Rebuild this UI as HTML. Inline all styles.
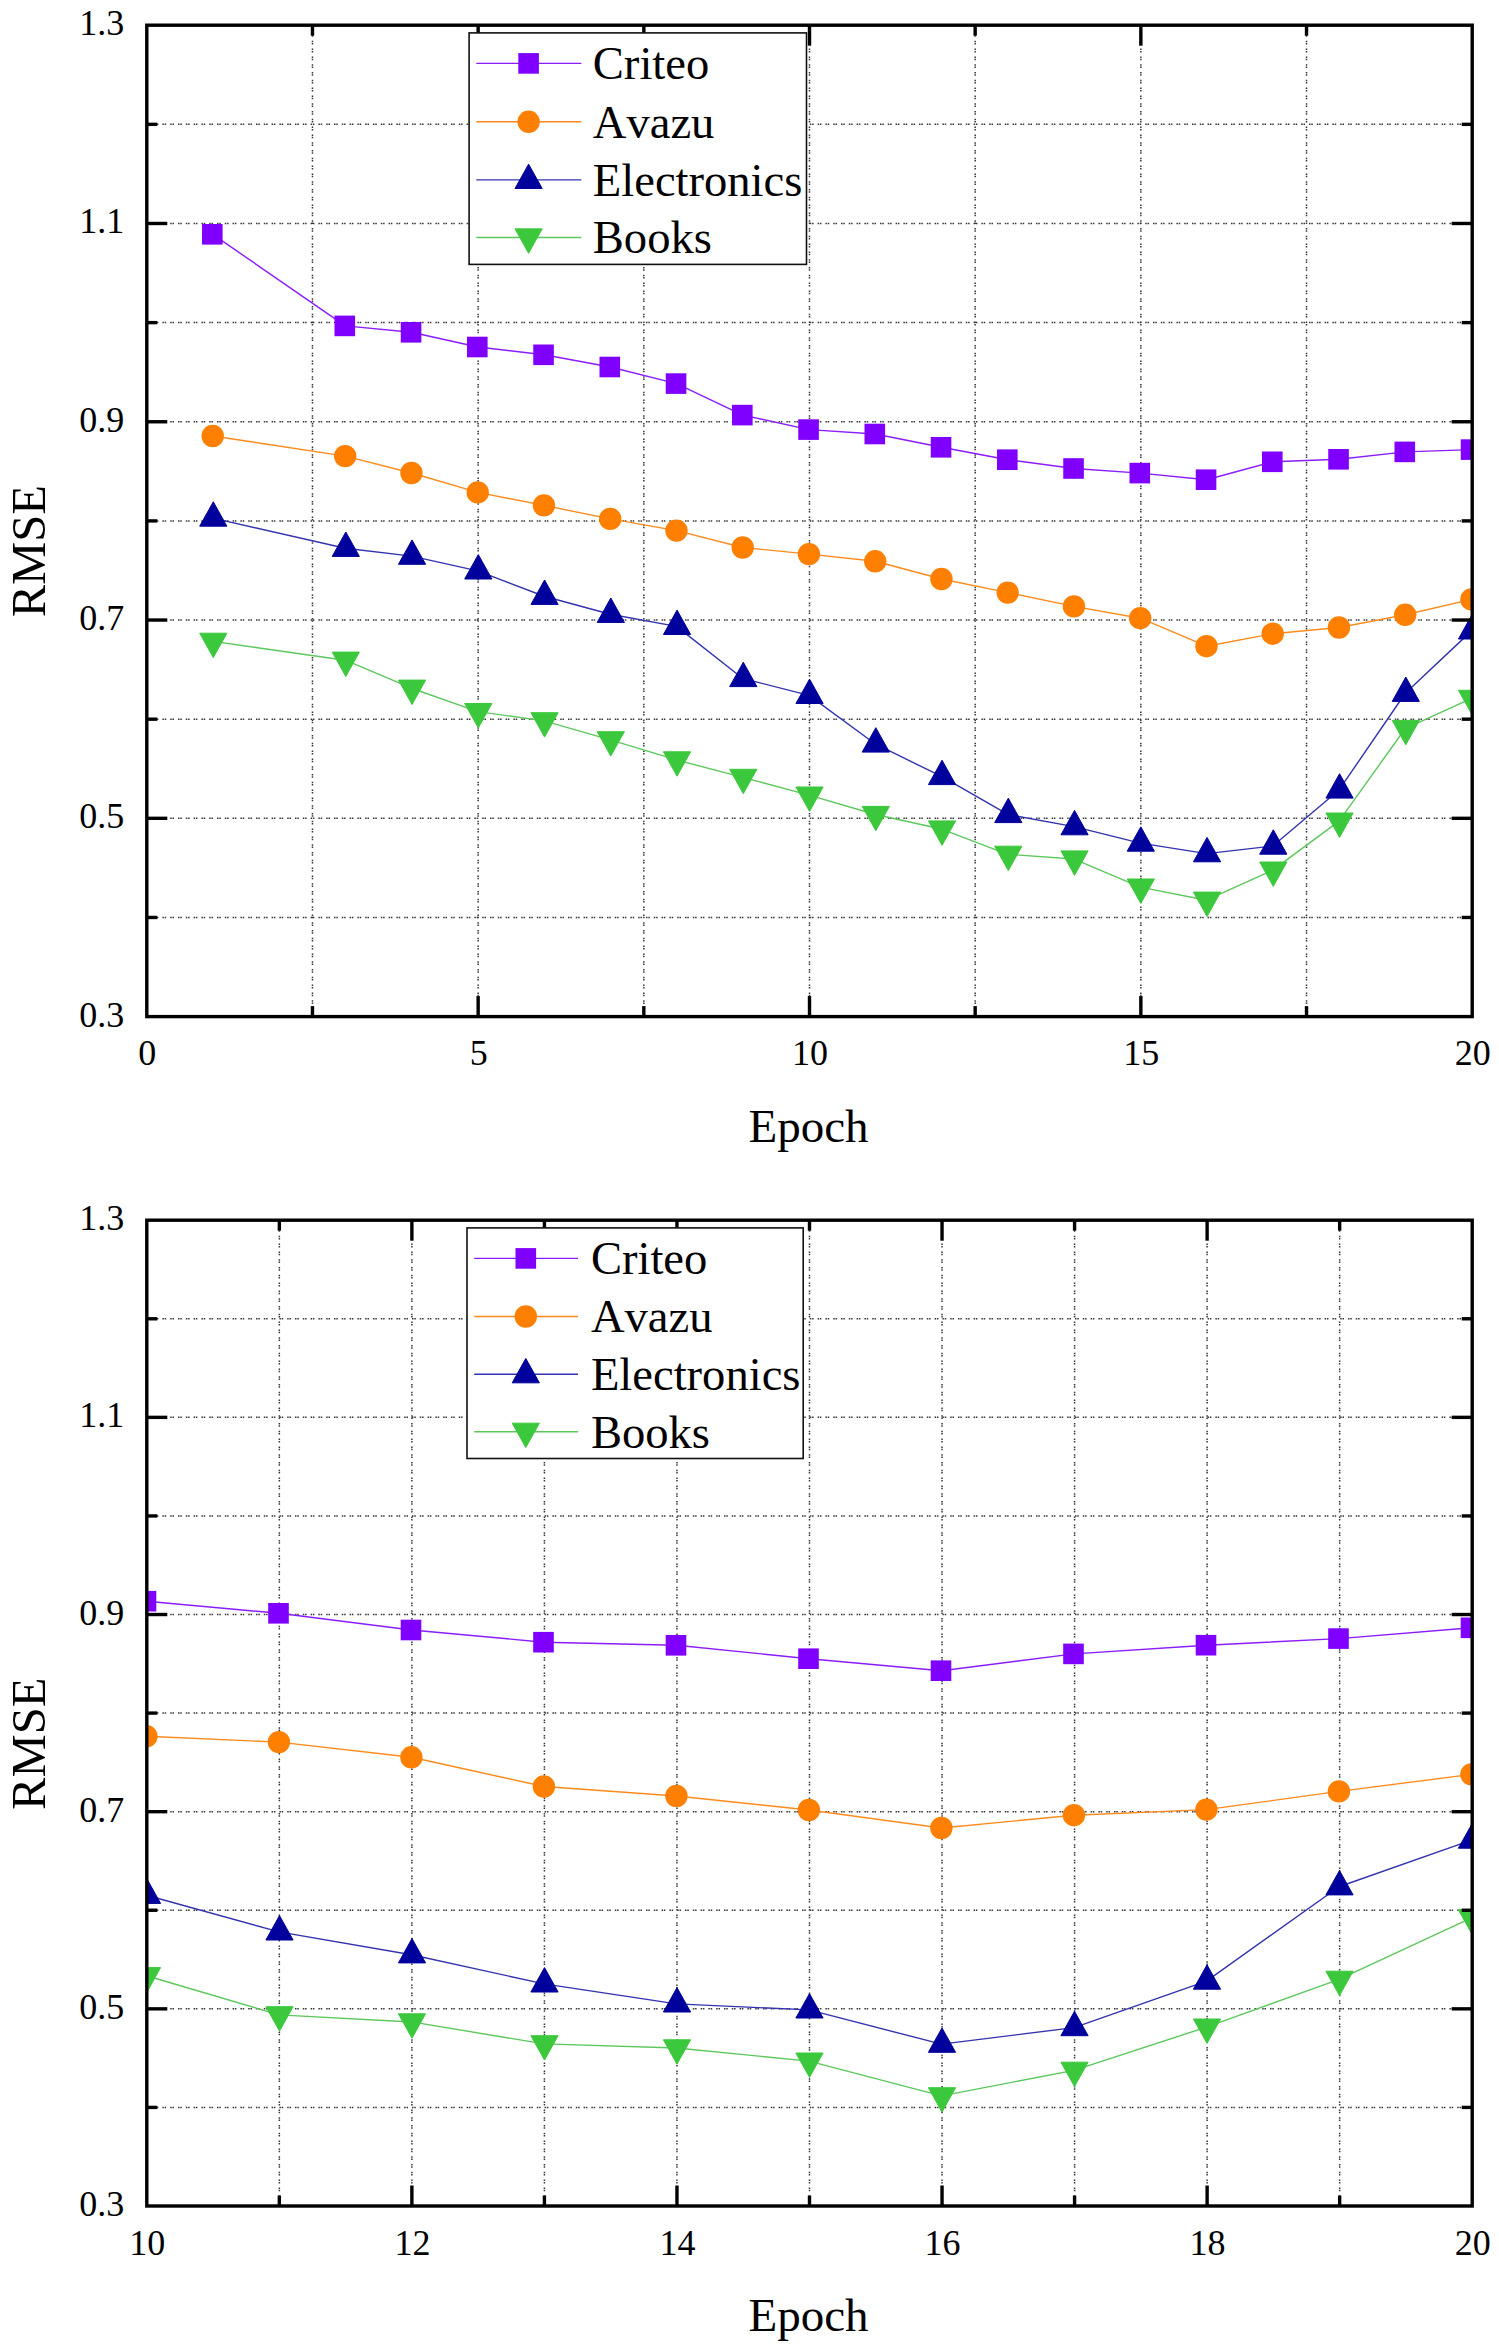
<!DOCTYPE html>
<html><head><meta charset="utf-8"><title>RMSE vs Epoch</title>
<style>html,body{margin:0;padding:0;background:#fff;width:1499px;height:2352px;overflow:hidden}svg{display:block}</style>
</head><body>
<svg width="1499" height="2352" viewBox="0 0 1499 2352">
<rect width="1499" height="2352" fill="#fff"/>
<defs><clipPath id="clip1"><rect x="146.8" y="25.2" width="1325.4" height="991.4"/></clipPath></defs>
<g stroke="#363636" stroke-width="1.5" stroke-dasharray="1.5 0.8 1.5 4.0"><line x1="146.8" y1="124.34" x2="1472.2" y2="124.34"/><line x1="146.8" y1="223.48" x2="1472.2" y2="223.48"/><line x1="146.8" y1="322.62" x2="1472.2" y2="322.62"/><line x1="146.8" y1="421.76" x2="1472.2" y2="421.76"/><line x1="146.8" y1="520.9" x2="1472.2" y2="520.9"/><line x1="146.8" y1="620.04" x2="1472.2" y2="620.04"/><line x1="146.8" y1="719.18" x2="1472.2" y2="719.18"/><line x1="146.8" y1="818.32" x2="1472.2" y2="818.32"/><line x1="146.8" y1="917.46" x2="1472.2" y2="917.46"/><line x1="312.48" y1="25.2" x2="312.48" y2="1016.6"/><line x1="478.15" y1="25.2" x2="478.15" y2="1016.6"/><line x1="643.83" y1="25.2" x2="643.83" y2="1016.6"/><line x1="809.5" y1="25.2" x2="809.5" y2="1016.6"/><line x1="975.17" y1="25.2" x2="975.17" y2="1016.6"/><line x1="1140.85" y1="25.2" x2="1140.85" y2="1016.6"/><line x1="1306.53" y1="25.2" x2="1306.53" y2="1016.6"/></g>
<g clip-path="url(#clip1)"><polyline points="212.8,234.3 345.3,325.9 411.55,332.3 477.8,347 544.05,354.8 610.3,367 676.55,383.6 742.8,415.1 809.05,429.6 875.3,434 941.55,447.3 1007.8,459.7 1074.05,468.5 1140.3,473.1 1206.55,479.7 1272.8,461.8 1339.05,459.3 1405.3,451.9 1471.55,449.6" fill="none" stroke="#8a1cff" stroke-width="1.4" stroke-linejoin="round"/><rect x="202" y="224" width="20.6" height="20.6" fill="#8000ff"/><rect x="334.5" y="315.6" width="20.6" height="20.6" fill="#8000ff"/><rect x="400.75" y="322" width="20.6" height="20.6" fill="#8000ff"/><rect x="467" y="336.7" width="20.6" height="20.6" fill="#8000ff"/><rect x="533.25" y="344.5" width="20.6" height="20.6" fill="#8000ff"/><rect x="599.5" y="356.7" width="20.6" height="20.6" fill="#8000ff"/><rect x="665.75" y="373.3" width="20.6" height="20.6" fill="#8000ff"/><rect x="732" y="404.8" width="20.6" height="20.6" fill="#8000ff"/><rect x="798.25" y="419.3" width="20.6" height="20.6" fill="#8000ff"/><rect x="864.5" y="423.7" width="20.6" height="20.6" fill="#8000ff"/><rect x="930.75" y="437" width="20.6" height="20.6" fill="#8000ff"/><rect x="997" y="449.4" width="20.6" height="20.6" fill="#8000ff"/><rect x="1063.25" y="458.2" width="20.6" height="20.6" fill="#8000ff"/><rect x="1129.5" y="462.8" width="20.6" height="20.6" fill="#8000ff"/><rect x="1195.75" y="469.4" width="20.6" height="20.6" fill="#8000ff"/><rect x="1262" y="451.5" width="20.6" height="20.6" fill="#8000ff"/><rect x="1328.25" y="449" width="20.6" height="20.6" fill="#8000ff"/><rect x="1394.5" y="441.6" width="20.6" height="20.6" fill="#8000ff"/><rect x="1460.75" y="439.3" width="20.6" height="20.6" fill="#8000ff"/><polyline points="212.8,436 345.3,456.1 411.55,473 477.8,492.4 544.05,505.4 610.3,518.9 676.55,530.6 742.8,547.5 809.05,554.1 875.3,561.3 941.55,579 1007.8,592.6 1074.05,606.4 1140.3,618.2 1206.55,646.2 1272.8,633.7 1339.05,627.5 1405.3,614.8 1471.55,599.4" fill="none" stroke="#ff8a1c" stroke-width="1.4" stroke-linejoin="round"/><circle cx="212.7" cy="436" r="11.2" fill="#ff8000"/><circle cx="345.2" cy="456.1" r="11.2" fill="#ff8000"/><circle cx="411.45" cy="473" r="11.2" fill="#ff8000"/><circle cx="477.7" cy="492.4" r="11.2" fill="#ff8000"/><circle cx="543.95" cy="505.4" r="11.2" fill="#ff8000"/><circle cx="610.2" cy="518.9" r="11.2" fill="#ff8000"/><circle cx="676.45" cy="530.6" r="11.2" fill="#ff8000"/><circle cx="742.7" cy="547.5" r="11.2" fill="#ff8000"/><circle cx="808.95" cy="554.1" r="11.2" fill="#ff8000"/><circle cx="875.2" cy="561.3" r="11.2" fill="#ff8000"/><circle cx="941.45" cy="579" r="11.2" fill="#ff8000"/><circle cx="1007.7" cy="592.6" r="11.2" fill="#ff8000"/><circle cx="1073.95" cy="606.4" r="11.2" fill="#ff8000"/><circle cx="1140.2" cy="618.2" r="11.2" fill="#ff8000"/><circle cx="1206.45" cy="646.2" r="11.2" fill="#ff8000"/><circle cx="1272.7" cy="633.7" r="11.2" fill="#ff8000"/><circle cx="1338.95" cy="627.5" r="11.2" fill="#ff8000"/><circle cx="1405.2" cy="614.8" r="11.2" fill="#ff8000"/><circle cx="1471.45" cy="599.4" r="11.2" fill="#ff8000"/><polyline points="212.8,518.07 345.3,548.27 411.55,556.17 477.8,570.87 544.05,596.27 610.3,614.27 676.55,626.37 742.8,678.47 809.05,695.37 875.3,743.97 941.55,776.47 1007.8,814.47 1074.05,826.67 1140.3,843.07 1206.55,853.67 1272.8,846.07 1339.05,789.97 1405.3,693.27 1471.55,630.87" fill="none" stroke="#3333b0" stroke-width="1.4" stroke-linejoin="round"/><path d="M213.3 501.8L226.9 526.2L199.7 526.2Z" fill="#00009c" stroke="#00009c" stroke-width="1"/><path d="M345.8 532L359.4 556.4L332.2 556.4Z" fill="#00009c" stroke="#00009c" stroke-width="1"/><path d="M412.05 539.9L425.65 564.3L398.45 564.3Z" fill="#00009c" stroke="#00009c" stroke-width="1"/><path d="M478.3 554.6L491.9 579L464.7 579Z" fill="#00009c" stroke="#00009c" stroke-width="1"/><path d="M544.55 580L558.15 604.4L530.95 604.4Z" fill="#00009c" stroke="#00009c" stroke-width="1"/><path d="M610.8 598L624.4 622.4L597.2 622.4Z" fill="#00009c" stroke="#00009c" stroke-width="1"/><path d="M677.05 610.1L690.65 634.5L663.45 634.5Z" fill="#00009c" stroke="#00009c" stroke-width="1"/><path d="M743.3 662.2L756.9 686.6L729.7 686.6Z" fill="#00009c" stroke="#00009c" stroke-width="1"/><path d="M809.55 679.1L823.15 703.5L795.95 703.5Z" fill="#00009c" stroke="#00009c" stroke-width="1"/><path d="M875.8 727.7L889.4 752.1L862.2 752.1Z" fill="#00009c" stroke="#00009c" stroke-width="1"/><path d="M942.05 760.2L955.65 784.6L928.45 784.6Z" fill="#00009c" stroke="#00009c" stroke-width="1"/><path d="M1008.3 798.2L1021.9 822.6L994.7 822.6Z" fill="#00009c" stroke="#00009c" stroke-width="1"/><path d="M1074.55 810.4L1088.15 834.8L1060.95 834.8Z" fill="#00009c" stroke="#00009c" stroke-width="1"/><path d="M1140.8 826.8L1154.4 851.2L1127.2 851.2Z" fill="#00009c" stroke="#00009c" stroke-width="1"/><path d="M1207.05 837.4L1220.65 861.8L1193.45 861.8Z" fill="#00009c" stroke="#00009c" stroke-width="1"/><path d="M1273.3 829.8L1286.9 854.2L1259.7 854.2Z" fill="#00009c" stroke="#00009c" stroke-width="1"/><path d="M1339.55 773.7L1353.15 798.1L1325.95 798.1Z" fill="#00009c" stroke="#00009c" stroke-width="1"/><path d="M1405.8 677L1419.4 701.4L1392.2 701.4Z" fill="#00009c" stroke="#00009c" stroke-width="1"/><path d="M1472.05 614.6L1485.65 639L1458.45 639Z" fill="#00009c" stroke="#00009c" stroke-width="1"/><polyline points="212.8,641.33 345.3,660.23 411.55,688.23 477.8,711.63 544.05,720.83 610.3,739.83 676.55,759.93 742.8,777.43 809.05,795.13 875.3,814.53 941.55,829.03 1007.8,854.33 1074.05,859.03 1140.3,887.13 1206.55,900.23 1272.8,870.13 1339.05,821.13 1405.3,728.53 1471.55,698.43" fill="none" stroke="#5cc85c" stroke-width="1.4" stroke-linejoin="round"/><path d="M199.7 633.2L226.9 633.2L213.3 657.6Z" fill="#3cc83c" stroke="#3cc83c" stroke-width="1"/><path d="M332.2 652.1L359.4 652.1L345.8 676.5Z" fill="#3cc83c" stroke="#3cc83c" stroke-width="1"/><path d="M398.45 680.1L425.65 680.1L412.05 704.5Z" fill="#3cc83c" stroke="#3cc83c" stroke-width="1"/><path d="M464.7 703.5L491.9 703.5L478.3 727.9Z" fill="#3cc83c" stroke="#3cc83c" stroke-width="1"/><path d="M530.95 712.7L558.15 712.7L544.55 737.1Z" fill="#3cc83c" stroke="#3cc83c" stroke-width="1"/><path d="M597.2 731.7L624.4 731.7L610.8 756.1Z" fill="#3cc83c" stroke="#3cc83c" stroke-width="1"/><path d="M663.45 751.8L690.65 751.8L677.05 776.2Z" fill="#3cc83c" stroke="#3cc83c" stroke-width="1"/><path d="M729.7 769.3L756.9 769.3L743.3 793.7Z" fill="#3cc83c" stroke="#3cc83c" stroke-width="1"/><path d="M795.95 787L823.15 787L809.55 811.4Z" fill="#3cc83c" stroke="#3cc83c" stroke-width="1"/><path d="M862.2 806.4L889.4 806.4L875.8 830.8Z" fill="#3cc83c" stroke="#3cc83c" stroke-width="1"/><path d="M928.45 820.9L955.65 820.9L942.05 845.3Z" fill="#3cc83c" stroke="#3cc83c" stroke-width="1"/><path d="M994.7 846.2L1021.9 846.2L1008.3 870.6Z" fill="#3cc83c" stroke="#3cc83c" stroke-width="1"/><path d="M1060.95 850.9L1088.15 850.9L1074.55 875.3Z" fill="#3cc83c" stroke="#3cc83c" stroke-width="1"/><path d="M1127.2 879L1154.4 879L1140.8 903.4Z" fill="#3cc83c" stroke="#3cc83c" stroke-width="1"/><path d="M1193.45 892.1L1220.65 892.1L1207.05 916.5Z" fill="#3cc83c" stroke="#3cc83c" stroke-width="1"/><path d="M1259.7 862L1286.9 862L1273.3 886.4Z" fill="#3cc83c" stroke="#3cc83c" stroke-width="1"/><path d="M1325.95 813L1353.15 813L1339.55 837.4Z" fill="#3cc83c" stroke="#3cc83c" stroke-width="1"/><path d="M1392.2 720.4L1419.4 720.4L1405.8 744.8Z" fill="#3cc83c" stroke="#3cc83c" stroke-width="1"/><path d="M1458.45 690.3L1485.65 690.3L1472.05 714.7Z" fill="#3cc83c" stroke="#3cc83c" stroke-width="1"/></g>
<rect x="146.8" y="25.2" width="1325.4" height="991.4" fill="none" stroke="#000" stroke-width="3.4"/>
<g stroke="#000" stroke-width="3.4"><line x1="146.8" y1="124.34" x2="157.3" y2="124.34"/><line x1="1472.2" y1="124.34" x2="1461.7" y2="124.34"/><line x1="146.8" y1="223.48" x2="167.3" y2="223.48"/><line x1="1472.2" y1="223.48" x2="1451.7" y2="223.48"/><line x1="146.8" y1="322.62" x2="157.3" y2="322.62"/><line x1="1472.2" y1="322.62" x2="1461.7" y2="322.62"/><line x1="146.8" y1="421.76" x2="167.3" y2="421.76"/><line x1="1472.2" y1="421.76" x2="1451.7" y2="421.76"/><line x1="146.8" y1="520.9" x2="157.3" y2="520.9"/><line x1="1472.2" y1="520.9" x2="1461.7" y2="520.9"/><line x1="146.8" y1="620.04" x2="167.3" y2="620.04"/><line x1="1472.2" y1="620.04" x2="1451.7" y2="620.04"/><line x1="146.8" y1="719.18" x2="157.3" y2="719.18"/><line x1="1472.2" y1="719.18" x2="1461.7" y2="719.18"/><line x1="146.8" y1="818.32" x2="167.3" y2="818.32"/><line x1="1472.2" y1="818.32" x2="1451.7" y2="818.32"/><line x1="146.8" y1="917.46" x2="157.3" y2="917.46"/><line x1="1472.2" y1="917.46" x2="1461.7" y2="917.46"/><line x1="312.48" y1="1016.6" x2="312.48" y2="1006.1"/><line x1="312.48" y1="25.2" x2="312.48" y2="35.7"/><line x1="478.15" y1="1016.6" x2="478.15" y2="996.1"/><line x1="478.15" y1="25.2" x2="478.15" y2="45.7"/><line x1="643.83" y1="1016.6" x2="643.83" y2="1006.1"/><line x1="643.83" y1="25.2" x2="643.83" y2="35.7"/><line x1="809.5" y1="1016.6" x2="809.5" y2="996.1"/><line x1="809.5" y1="25.2" x2="809.5" y2="45.7"/><line x1="975.17" y1="1016.6" x2="975.17" y2="1006.1"/><line x1="975.17" y1="25.2" x2="975.17" y2="35.7"/><line x1="1140.85" y1="1016.6" x2="1140.85" y2="996.1"/><line x1="1140.85" y1="25.2" x2="1140.85" y2="45.7"/><line x1="1306.53" y1="1016.6" x2="1306.53" y2="1006.1"/><line x1="1306.53" y1="25.2" x2="1306.53" y2="35.7"/></g>
<g style="font-family:'Liberation Serif',serif;font-size:36px" fill="#000"><text x="124.3" y="35.2" text-anchor="end">1.3</text><text x="124.3" y="233.48" text-anchor="end">1.1</text><text x="124.3" y="431.76" text-anchor="end">0.9</text><text x="124.3" y="630.04" text-anchor="end">0.7</text><text x="124.3" y="828.32" text-anchor="end">0.5</text><text x="124.3" y="1026.6" text-anchor="end">0.3</text><text x="147.3" y="1065.2" text-anchor="middle">0</text><text x="478.65" y="1065.2" text-anchor="middle">5</text><text x="810" y="1065.2" text-anchor="middle">10</text><text x="1141.35" y="1065.2" text-anchor="middle">15</text><text x="1472.7" y="1065.2" text-anchor="middle">20</text></g>
<text x="808.5" y="1142.3" text-anchor="middle" style="font-family:'Liberation Serif',serif;font-size:47px">Epoch</text>
<text transform="translate(44.6 551.2) rotate(-90)" x="0" y="0" text-anchor="middle" style="font-family:'Liberation Serif',serif;font-size:48.6px">RMSE</text>
<rect x="469.1" y="32.9" width="337.4" height="231.5" fill="#fff" stroke="#111" stroke-width="1.6"/><line x1="476.3" y1="63.4" x2="581.3" y2="63.4" stroke="#8a1cff" stroke-width="1.4"/><rect x="518.3" y="53.1" width="20.6" height="20.6" fill="#8000ff"/><text x="592.8" y="79.2" style="font-family:'Liberation Serif',serif;font-size:46.6px;font-kerning:none">Criteo</text><line x1="476.3" y1="121.8" x2="581.3" y2="121.8" stroke="#ff8a1c" stroke-width="1.4"/><circle cx="528.6" cy="121.8" r="11.2" fill="#ff8000"/><text x="592.8" y="137.6" style="font-family:'Liberation Serif',serif;font-size:46.6px;font-kerning:none">Avazu</text><line x1="476.3" y1="179.9" x2="581.3" y2="179.9" stroke="#3333b0" stroke-width="1.4"/><path d="M528.6 164.13L542.2 188.53L515 188.53Z" fill="#00009c" stroke="#00009c" stroke-width="1"/><text x="592.8" y="195.7" style="font-family:'Liberation Serif',serif;font-size:46.6px;font-kerning:none">Electronics</text><line x1="476.3" y1="237.5" x2="581.3" y2="237.5" stroke="#5cc85c" stroke-width="1.4"/><path d="M515 228.87L542.2 228.87L528.6 253.27Z" fill="#3cc83c" stroke="#3cc83c" stroke-width="1"/><text x="592.8" y="253.3" style="font-family:'Liberation Serif',serif;font-size:46.6px;font-kerning:none">Books</text>
<defs><clipPath id="clip2"><rect x="146.8" y="1220.2" width="1325.4" height="985.8"/></clipPath></defs>
<g stroke="#363636" stroke-width="1.5" stroke-dasharray="1.5 0.8 1.5 4.0"><line x1="146.8" y1="1318.78" x2="1472.2" y2="1318.78"/><line x1="146.8" y1="1417.36" x2="1472.2" y2="1417.36"/><line x1="146.8" y1="1515.94" x2="1472.2" y2="1515.94"/><line x1="146.8" y1="1614.52" x2="1472.2" y2="1614.52"/><line x1="146.8" y1="1713.1" x2="1472.2" y2="1713.1"/><line x1="146.8" y1="1811.68" x2="1472.2" y2="1811.68"/><line x1="146.8" y1="1910.26" x2="1472.2" y2="1910.26"/><line x1="146.8" y1="2008.84" x2="1472.2" y2="2008.84"/><line x1="146.8" y1="2107.42" x2="1472.2" y2="2107.42"/><line x1="279.34" y1="1220.2" x2="279.34" y2="2206"/><line x1="411.88" y1="1220.2" x2="411.88" y2="2206"/><line x1="544.42" y1="1220.2" x2="544.42" y2="2206"/><line x1="676.96" y1="1220.2" x2="676.96" y2="2206"/><line x1="809.5" y1="1220.2" x2="809.5" y2="2206"/><line x1="942.04" y1="1220.2" x2="942.04" y2="2206"/><line x1="1074.58" y1="1220.2" x2="1074.58" y2="2206"/><line x1="1207.12" y1="1220.2" x2="1207.12" y2="2206"/><line x1="1339.66" y1="1220.2" x2="1339.66" y2="2206"/></g>
<g clip-path="url(#clip2)"><polyline points="146.5,1601.2 279,1613.3 411.5,1630 544,1642.2 676.5,1645.3 809,1658.7 941.5,1670.7 1074,1653.9 1206.5,1645.2 1339,1638.6 1471.5,1627.8" fill="none" stroke="#8a1cff" stroke-width="1.4" stroke-linejoin="round"/><rect x="135.7" y="1590.9" width="20.6" height="20.6" fill="#8000ff"/><rect x="268.2" y="1603" width="20.6" height="20.6" fill="#8000ff"/><rect x="400.7" y="1619.7" width="20.6" height="20.6" fill="#8000ff"/><rect x="533.2" y="1631.9" width="20.6" height="20.6" fill="#8000ff"/><rect x="665.7" y="1635" width="20.6" height="20.6" fill="#8000ff"/><rect x="798.2" y="1648.4" width="20.6" height="20.6" fill="#8000ff"/><rect x="930.7" y="1660.4" width="20.6" height="20.6" fill="#8000ff"/><rect x="1063.2" y="1643.6" width="20.6" height="20.6" fill="#8000ff"/><rect x="1195.7" y="1634.9" width="20.6" height="20.6" fill="#8000ff"/><rect x="1328.2" y="1628.3" width="20.6" height="20.6" fill="#8000ff"/><rect x="1460.7" y="1617.5" width="20.6" height="20.6" fill="#8000ff"/><polyline points="146.5,1736.3 279,1742.1 411.5,1757.3 544,1786.5 676.5,1796 809,1810 941.5,1828 1074,1815.2 1206.5,1809.6 1339,1791.4 1471.5,1774.4" fill="none" stroke="#ff8a1c" stroke-width="1.4" stroke-linejoin="round"/><circle cx="146.4" cy="1736.3" r="11.2" fill="#ff8000"/><circle cx="278.9" cy="1742.1" r="11.2" fill="#ff8000"/><circle cx="411.4" cy="1757.3" r="11.2" fill="#ff8000"/><circle cx="543.9" cy="1786.5" r="11.2" fill="#ff8000"/><circle cx="676.4" cy="1796" r="11.2" fill="#ff8000"/><circle cx="808.9" cy="1810" r="11.2" fill="#ff8000"/><circle cx="941.4" cy="1828" r="11.2" fill="#ff8000"/><circle cx="1073.9" cy="1815.2" r="11.2" fill="#ff8000"/><circle cx="1206.4" cy="1809.6" r="11.2" fill="#ff8000"/><circle cx="1338.9" cy="1791.4" r="11.2" fill="#ff8000"/><circle cx="1471.4" cy="1774.4" r="11.2" fill="#ff8000"/><polyline points="146.5,1895.27 279,1931.87 411.5,1954.77 544,1983.87 676.5,2003.87 809,2009.87 941.5,2044.17 1074,2027.57 1206.5,1981.07 1339,1886.77 1471.5,1840.07" fill="none" stroke="#3333b0" stroke-width="1.4" stroke-linejoin="round"/><path d="M147 1879L160.6 1903.4L133.4 1903.4Z" fill="#00009c" stroke="#00009c" stroke-width="1"/><path d="M279.5 1915.6L293.1 1940L265.9 1940Z" fill="#00009c" stroke="#00009c" stroke-width="1"/><path d="M412 1938.5L425.6 1962.9L398.4 1962.9Z" fill="#00009c" stroke="#00009c" stroke-width="1"/><path d="M544.5 1967.6L558.1 1992L530.9 1992Z" fill="#00009c" stroke="#00009c" stroke-width="1"/><path d="M677 1987.6L690.6 2012L663.4 2012Z" fill="#00009c" stroke="#00009c" stroke-width="1"/><path d="M809.5 1993.6L823.1 2018L795.9 2018Z" fill="#00009c" stroke="#00009c" stroke-width="1"/><path d="M942 2027.9L955.6 2052.3L928.4 2052.3Z" fill="#00009c" stroke="#00009c" stroke-width="1"/><path d="M1074.5 2011.3L1088.1 2035.7L1060.9 2035.7Z" fill="#00009c" stroke="#00009c" stroke-width="1"/><path d="M1207 1964.8L1220.6 1989.2L1193.4 1989.2Z" fill="#00009c" stroke="#00009c" stroke-width="1"/><path d="M1339.5 1870.5L1353.1 1894.9L1325.9 1894.9Z" fill="#00009c" stroke="#00009c" stroke-width="1"/><path d="M1472 1823.8L1485.6 1848.2L1458.4 1848.2Z" fill="#00009c" stroke="#00009c" stroke-width="1"/><polyline points="146.5,1975.73 279,2014.83 411.5,2021.93 544,2043.83 676.5,2047.93 809,2061.13 941.5,2095.83 1074,2070.33 1206.5,2027.13 1339,1979.33 1471.5,1917.93" fill="none" stroke="#5cc85c" stroke-width="1.4" stroke-linejoin="round"/><path d="M133.4 1967.6L160.6 1967.6L147 1992Z" fill="#3cc83c" stroke="#3cc83c" stroke-width="1"/><path d="M265.9 2006.7L293.1 2006.7L279.5 2031.1Z" fill="#3cc83c" stroke="#3cc83c" stroke-width="1"/><path d="M398.4 2013.8L425.6 2013.8L412 2038.2Z" fill="#3cc83c" stroke="#3cc83c" stroke-width="1"/><path d="M530.9 2035.7L558.1 2035.7L544.5 2060.1Z" fill="#3cc83c" stroke="#3cc83c" stroke-width="1"/><path d="M663.4 2039.8L690.6 2039.8L677 2064.2Z" fill="#3cc83c" stroke="#3cc83c" stroke-width="1"/><path d="M795.9 2053L823.1 2053L809.5 2077.4Z" fill="#3cc83c" stroke="#3cc83c" stroke-width="1"/><path d="M928.4 2087.7L955.6 2087.7L942 2112.1Z" fill="#3cc83c" stroke="#3cc83c" stroke-width="1"/><path d="M1060.9 2062.2L1088.1 2062.2L1074.5 2086.6Z" fill="#3cc83c" stroke="#3cc83c" stroke-width="1"/><path d="M1193.4 2019L1220.6 2019L1207 2043.4Z" fill="#3cc83c" stroke="#3cc83c" stroke-width="1"/><path d="M1325.9 1971.2L1353.1 1971.2L1339.5 1995.6Z" fill="#3cc83c" stroke="#3cc83c" stroke-width="1"/><path d="M1458.4 1909.8L1485.6 1909.8L1472 1934.2Z" fill="#3cc83c" stroke="#3cc83c" stroke-width="1"/></g>
<rect x="146.8" y="1220.2" width="1325.4" height="985.8" fill="none" stroke="#000" stroke-width="3.4"/>
<g stroke="#000" stroke-width="3.4"><line x1="146.8" y1="1318.78" x2="157.3" y2="1318.78"/><line x1="1472.2" y1="1318.78" x2="1461.7" y2="1318.78"/><line x1="146.8" y1="1417.36" x2="167.3" y2="1417.36"/><line x1="1472.2" y1="1417.36" x2="1451.7" y2="1417.36"/><line x1="146.8" y1="1515.94" x2="157.3" y2="1515.94"/><line x1="1472.2" y1="1515.94" x2="1461.7" y2="1515.94"/><line x1="146.8" y1="1614.52" x2="167.3" y2="1614.52"/><line x1="1472.2" y1="1614.52" x2="1451.7" y2="1614.52"/><line x1="146.8" y1="1713.1" x2="157.3" y2="1713.1"/><line x1="1472.2" y1="1713.1" x2="1461.7" y2="1713.1"/><line x1="146.8" y1="1811.68" x2="167.3" y2="1811.68"/><line x1="1472.2" y1="1811.68" x2="1451.7" y2="1811.68"/><line x1="146.8" y1="1910.26" x2="157.3" y2="1910.26"/><line x1="1472.2" y1="1910.26" x2="1461.7" y2="1910.26"/><line x1="146.8" y1="2008.84" x2="167.3" y2="2008.84"/><line x1="1472.2" y1="2008.84" x2="1451.7" y2="2008.84"/><line x1="146.8" y1="2107.42" x2="157.3" y2="2107.42"/><line x1="1472.2" y1="2107.42" x2="1461.7" y2="2107.42"/><line x1="279.34" y1="2206" x2="279.34" y2="2195.5"/><line x1="279.34" y1="1220.2" x2="279.34" y2="1230.7"/><line x1="411.88" y1="2206" x2="411.88" y2="2185.5"/><line x1="411.88" y1="1220.2" x2="411.88" y2="1240.7"/><line x1="544.42" y1="2206" x2="544.42" y2="2195.5"/><line x1="544.42" y1="1220.2" x2="544.42" y2="1230.7"/><line x1="676.96" y1="2206" x2="676.96" y2="2185.5"/><line x1="676.96" y1="1220.2" x2="676.96" y2="1240.7"/><line x1="809.5" y1="2206" x2="809.5" y2="2195.5"/><line x1="809.5" y1="1220.2" x2="809.5" y2="1230.7"/><line x1="942.04" y1="2206" x2="942.04" y2="2185.5"/><line x1="942.04" y1="1220.2" x2="942.04" y2="1240.7"/><line x1="1074.58" y1="2206" x2="1074.58" y2="2195.5"/><line x1="1074.58" y1="1220.2" x2="1074.58" y2="1230.7"/><line x1="1207.12" y1="2206" x2="1207.12" y2="2185.5"/><line x1="1207.12" y1="1220.2" x2="1207.12" y2="1240.7"/><line x1="1339.66" y1="2206" x2="1339.66" y2="2195.5"/><line x1="1339.66" y1="1220.2" x2="1339.66" y2="1230.7"/></g>
<g style="font-family:'Liberation Serif',serif;font-size:36px" fill="#000"><text x="124.3" y="1230.2" text-anchor="end">1.3</text><text x="124.3" y="1427.36" text-anchor="end">1.1</text><text x="124.3" y="1624.52" text-anchor="end">0.9</text><text x="124.3" y="1821.68" text-anchor="end">0.7</text><text x="124.3" y="2018.84" text-anchor="end">0.5</text><text x="124.3" y="2216" text-anchor="end">0.3</text><text x="147.3" y="2254.6" text-anchor="middle">10</text><text x="412.38" y="2254.6" text-anchor="middle">12</text><text x="677.46" y="2254.6" text-anchor="middle">14</text><text x="942.54" y="2254.6" text-anchor="middle">16</text><text x="1207.62" y="2254.6" text-anchor="middle">18</text><text x="1472.7" y="2254.6" text-anchor="middle">20</text></g>
<text x="808.5" y="2330.5" text-anchor="middle" style="font-family:'Liberation Serif',serif;font-size:47px">Epoch</text>
<text transform="translate(44.6 1743.8) rotate(-90)" x="0" y="0" text-anchor="middle" style="font-family:'Liberation Serif',serif;font-size:48.6px">RMSE</text>
<rect x="467" y="1227.9" width="336.2" height="230.6" fill="#fff" stroke="#111" stroke-width="1.6"/><line x1="474.2" y1="1258.4" x2="578" y2="1258.4" stroke="#8a1cff" stroke-width="1.4"/><rect x="515.5" y="1248.1" width="20.6" height="20.6" fill="#8000ff"/><text x="590.9" y="1274.2" style="font-family:'Liberation Serif',serif;font-size:46.6px;font-kerning:none">Criteo</text><line x1="474.2" y1="1316.5" x2="578" y2="1316.5" stroke="#ff8a1c" stroke-width="1.4"/><circle cx="525.8" cy="1316.5" r="11.2" fill="#ff8000"/><text x="590.9" y="1332.3" style="font-family:'Liberation Serif',serif;font-size:46.6px;font-kerning:none">Avazu</text><line x1="474.2" y1="1374.2" x2="578" y2="1374.2" stroke="#3333b0" stroke-width="1.4"/><path d="M525.8 1358.43L539.4 1382.83L512.2 1382.83Z" fill="#00009c" stroke="#00009c" stroke-width="1"/><text x="590.9" y="1390" style="font-family:'Liberation Serif',serif;font-size:46.6px;font-kerning:none">Electronics</text><line x1="474.2" y1="1431.8" x2="578" y2="1431.8" stroke="#5cc85c" stroke-width="1.4"/><path d="M512.2 1423.17L539.4 1423.17L525.8 1447.57Z" fill="#3cc83c" stroke="#3cc83c" stroke-width="1"/><text x="590.9" y="1447.6" style="font-family:'Liberation Serif',serif;font-size:46.6px;font-kerning:none">Books</text>
</svg>
</body></html>
